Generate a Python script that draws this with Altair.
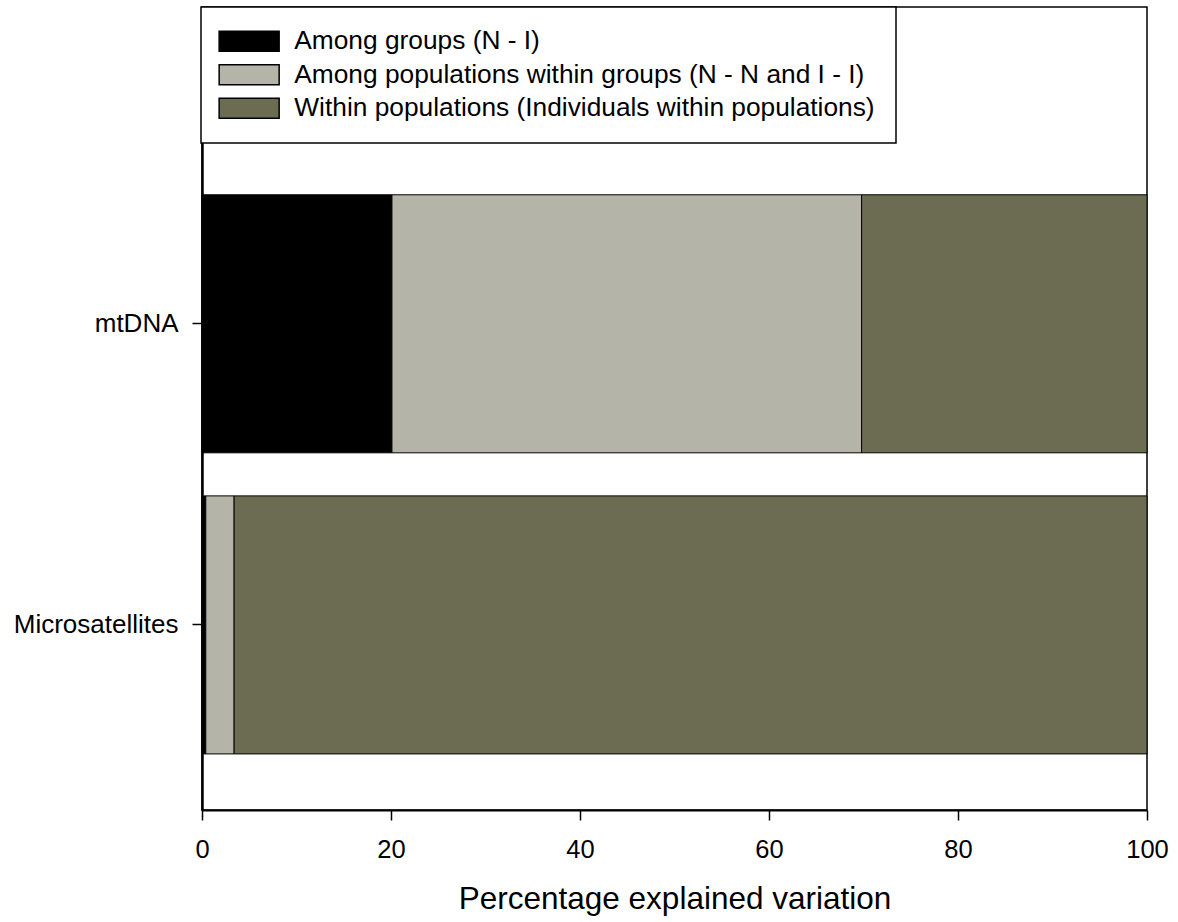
import altair as alt
import pandas as pd

# Partitioning of genetic variation (AMOVA), percent of total
markers = ["mtDNA", "Microsatellites"]
components = [
    "Among groups (N - I)",
    "Among populations within groups (N - N and I - I)",
    "Within populations (Individuals within populations)",
]
mtdna_pct = [20.1, 49.7, 30.2]
microsat_pct = [0.4, 3.0, 96.6]
component_colors = ["#000000", "#b4b5a8", "#6c6c53"]

rows = []
for marker, values in zip(markers, [mtdna_pct, microsat_pct]):
    for i, (comp, val) in enumerate(zip(components, values)):
        rows.append({"marker": marker, "component": comp, "pct": val, "order": i})
df = pd.DataFrame(rows)

FONT = "Liberation Sans"

bars = (
    alt.Chart(df)
    .mark_bar(stroke="black", strokeWidth=1)
    .encode(
        x=alt.X(
            "pct:Q",
            stack="zero",
            scale=alt.Scale(domain=[0, 100], nice=False),
            axis=alt.Axis(
                values=[0, 20, 40, 60, 80, 100],
                title="Percentage explained variation",
                titleFontSize=31.5,
                titleFontWeight="normal",
                titlePadding=21,
                labelFontSize=25.5,
                labelPadding=17,
                labelFlush=False,
                tickSize=10,
                tickWidth=1.5,
                domainWidth=2,
                domainColor="black",
                tickColor="black",
                labelColor="black",
                titleColor="black",
                grid=False,
            ),
        ),
        y=alt.Y(
            "marker:N",
            sort=markers,
            scale=alt.Scale(paddingInner=0.143, paddingOuter=0.405, align=0.77),
            axis=alt.Axis(
                title=None,
                labelFontSize=26,
                labelPadding=14,
                tickSize=10,
                tickWidth=1.5,
                domainWidth=2.5,
                domainColor="black",
                tickColor="black",
                labelColor="black",
                grid=False,
            ),
        ),
        color=alt.Color(
            "component:N",
            sort=components,
            scale=alt.Scale(domain=components, range=component_colors),
            legend=alt.Legend(
                title=None,
                orient="none",
                legendX=-1,
                legendY=0,
                direction="vertical",
                symbolType="M-3,-1H3V1H-3Z",
                symbolSize=400,
                symbolStrokeColor="black",
                symbolStrokeWidth=1.5,
                symbolOffset=14,
                labelOffset=32,
                labelFontSize=26.3,
                labelColor="black",
                labelLimit=800,
                rowPadding=6.5,
                padding=21,
                strokeColor="black",
                fillColor="white",
            ),
        ),
        order=alt.Order("order:Q"),
    )
)

chart = (
    bars.properties(
        width=945,
        height=803,
        autosize=alt.AutoSizeParams(type="none"),
        padding={"left": 202, "top": 7, "right": 31, "bottom": 112},
    )
    .configure(font=FONT)
    .configure_view(stroke="black", strokeWidth=1.5)
    .configure_legend(strokeWidth=1.5)
)

chart.save("out.html", embed_options={"renderer": "svg", "actions": False})
